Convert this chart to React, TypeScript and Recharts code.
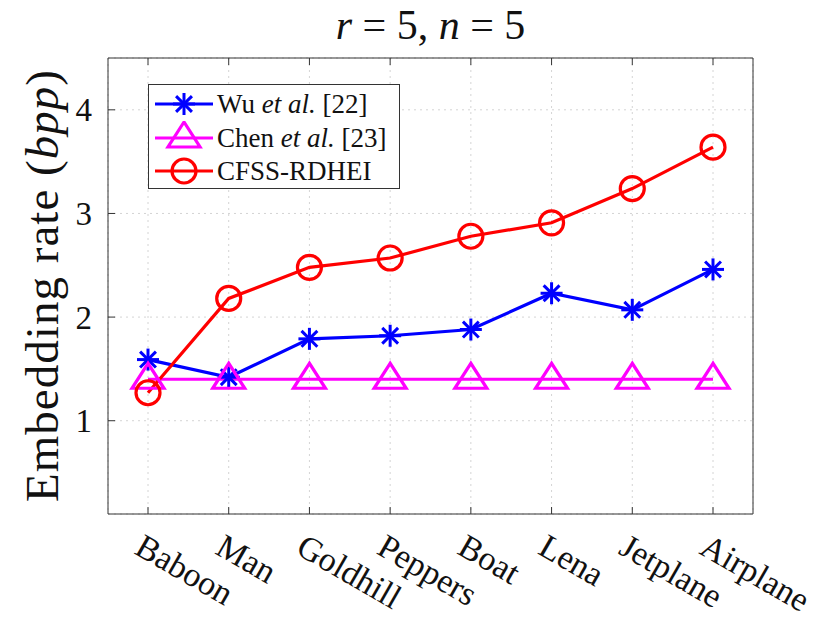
import React from 'react';
import { LineChart, Line, XAxis, YAxis, CartesianGrid, Legend } from 'recharts';

const images = ['Baboon', 'Man', 'Goldhill', 'Peppers', 'Boat', 'Lena', 'Jetplane', 'Airplane'];
const wuRates = [1.59, 1.42, 1.79, 1.82, 1.88, 2.23, 2.07, 2.46];
const chenRates = [1.4, 1.4, 1.4, 1.4, 1.4, 1.4, 1.4, 1.4];
const cfssRates = [1.27, 2.18, 2.48, 2.57, 2.78, 2.91, 3.24, 3.64];
const yTicks = [1, 2, 3, 4];

const data = images.map((name, i) => ({
  name,
  wu: wuRates[i],
  chen: chenRates[i],
  cfss: cfssRates[i],
}));

const FONT = "'Liberation Serif', serif";
const AXIS = '#333333';
const TICK_LEN = 7;
const X_PAD = { left: 40, right: 40 };
const txt = (size: number) => ({ fontFamily: FONT, fontSize: size, fill: '#111' });

function Star({ cx, cy, color, r = 11 }: any) {
  const d = r * 0.72;
  return (
    <g stroke={color} strokeWidth={3} strokeLinecap="butt">
      <line x1={cx} y1={cy - r} x2={cx} y2={cy + r} />
      <line x1={cx - r} y1={cy} x2={cx + r} y2={cy} />
      <line x1={cx - d} y1={cy - d} x2={cx + d} y2={cy + d} />
      <line x1={cx - d} y1={cy + d} x2={cx + d} y2={cy - d} />
    </g>
  );
}

function Tri({ cx, cy, color }: any) {
  const pts = `${cx},${cy - 16} ${cx - 16},${cy + 9} ${cx + 16},${cy + 9}`;
  return <polygon points={pts} fill="none" stroke={color} strokeWidth={3.2} strokeLinejoin="miter" />;
}

function Ring({ cx, cy, color }: any) {
  return <circle cx={cx} cy={cy} r={12} fill="none" stroke={color} strokeWidth={3.2} />;
}

const markers: Record<string, any> = { wu: Star, chen: Tri, cfss: Ring };

const makeDot = (key: string, color: string) => (props: any) => {
  const M = markers[key];
  return (
    <g key={`${key}-${props.index}`}>
      <M cx={props.cx} cy={props.cy} color={color} />
    </g>
  );
};

const BottomTick = ({ x, y, payload }: any) => (
  <g>
    <line x1={x} y1={y} x2={x} y2={y - TICK_LEN} stroke={AXIS} />
    <text
      x={x - 15}
      y={y + 39}
      transform={`rotate(30 ${x - 15} ${y + 39})`}
      textAnchor="start"
      style={txt(34)}
    >
      {payload.value}
    </text>
  </g>
);

const TopTick = ({ x, y }: any) => <line x1={x} y1={y} x2={x} y2={y + TICK_LEN} stroke={AXIS} />;

const LeftTick = ({ x, y, payload }: any) => (
  <g>
    <line x1={x} y1={y} x2={x + TICK_LEN} y2={y} stroke={AXIS} />
    <text x={x - 16} y={y} dy="0.35em" textAnchor="end" style={txt(33)}>
      {payload.value}
    </text>
  </g>
);

const RightTick = ({ x, y }: any) => <line x1={x - TICK_LEN} y1={y} x2={x} y2={y} stroke={AXIS} />;

const yLabel = (props: any) => {
  const vb = props.viewBox;
  const cx = vb.x + vb.width - 66;
  const cy = vb.y + vb.height / 2;
  return (
    <text
      x={cx}
      y={cy}
      transform={`rotate(-90 ${cx} ${cy})`}
      textAnchor="middle"
      dy="0.35em"
      textLength={432}
      lengthAdjust="spacing"
      style={txt(47)}
    >
      Embedding rate (<tspan fontStyle="italic">bpp</tspan>)
    </text>
  );
};

const title = (props: any) => {
  const vb = props.viewBox;
  const cx = vb.x + vb.width / 2;
  return (
    <text x={cx} y={39} textAnchor="middle" style={txt(42)} xmlSpace="preserve">
      <tspan fontStyle="italic">r</tspan>
      {' = 5, '}
      <tspan fontStyle="italic">n</tspan>
      {' = 5'}
    </text>
  );
};

const seriesInfo = [
  { key: 'wu', pre: 'Wu ', italic: 'et al.', post: ' [22]' },
  { key: 'chen', pre: 'Chen ', italic: 'et al.', post: ' [23]' },
  { key: 'cfss', pre: 'CFSS-RDHEI', italic: '', post: '' },
];

const colors: Record<string, string> = { wu: '#0000ff', chen: '#ff00ff', cfss: '#ff0000' };

function LegendBox() {
  return (
    <div
      style={{
        width: 252,
        height: 105,
        boxSizing: 'border-box',
        border: `1px solid ${AXIS}`,
        background: '#fff',
        position: 'relative',
        fontFamily: FONT,
        fontSize: 27,
        color: '#111',
      }}
    >
      {seriesInfo.map((s, i) => {
        const M = markers[s.key];
        const c = colors[s.key];
        return (
          <div key={s.key} style={{ position: 'absolute', left: 0, top: 2 + i * 33.5, height: 34, display: 'flex', alignItems: 'center' }}>
            <svg width={68} height={34} style={{ display: 'block' }}>
              <line x1={6} y1={17} x2={64} y2={17} stroke={c} strokeWidth={3.2} />
              <M cx={35} cy={17} color={c} />
            </svg>
            <span style={{ whiteSpace: 'pre', lineHeight: '34px' }}>
              {s.pre}
              {s.italic ? <i>{s.italic}</i> : null}
              {s.post}
            </span>
          </div>
        );
      })}
    </div>
  );
}

export default function App() {
  return (
    <div style={{ position: 'absolute', left: 0, top: 0, background: '#fff' }}>
      <LineChart width={830} height={623} data={data} margin={{ top: 57, right: 76, bottom: 108, left: 107 }}>
        <CartesianGrid xAxisId="bottom" yAxisId="left" stroke="#d4d4d4" strokeDasharray="2 4" />
        <XAxis
          xAxisId="bottom"
          dataKey="name"
          orientation="bottom"
          height={1}
          padding={X_PAD}
          interval={0}
          tickSize={0}
          tickMargin={0}
          tickLine={false}
          stroke={AXIS}
          tick={<BottomTick />}
        />
        <XAxis
          xAxisId="top"
          dataKey="name"
          orientation="top"
          height={1}
          padding={X_PAD}
          interval={0}
          tickSize={0}
          tickMargin={0}
          tickLine={false}
          stroke={AXIS}
          tick={<TopTick />}
          label={title}
        />
        <YAxis
          yAxisId="left"
          type="number"
          domain={[0.1, 4.5]}
          ticks={yTicks}
          interval={0}
          width={1}
          tickSize={0}
          tickMargin={0}
          tickLine={false}
          stroke={AXIS}
          tick={<LeftTick />}
          label={yLabel}
        />
        <YAxis
          yAxisId="right"
          orientation="right"
          type="number"
          domain={[0.1, 4.5]}
          ticks={yTicks}
          interval={0}
          width={1}
          tickSize={0}
          tickMargin={0}
          tickLine={false}
          stroke={AXIS}
          tick={<RightTick />}
        />
        <Legend
          layout="vertical"
          align="center"
          verticalAlign="middle"
          wrapperStyle={{ left: 148, top: 84, width: 252, height: 105 }}
          content={() => <LegendBox />}
        />
        <Line
          xAxisId="bottom"
          yAxisId="left"
          dataKey="wu"
          name="Wu et al. [22]"
          stroke={colors.wu}
          strokeWidth={3.2}
          dot={makeDot('wu', colors.wu)}
          activeDot={false}
          isAnimationActive={false}
        />
        <Line
          xAxisId="bottom"
          yAxisId="left"
          dataKey="chen"
          name="Chen et al. [23]"
          stroke={colors.chen}
          strokeWidth={3.2}
          dot={makeDot('chen', colors.chen)}
          activeDot={false}
          isAnimationActive={false}
        />
        <Line
          xAxisId="bottom"
          yAxisId="left"
          dataKey="cfss"
          name="CFSS-RDHEI"
          stroke={colors.cfss}
          strokeWidth={3.2}
          dot={makeDot('cfss', colors.cfss)}
          activeDot={false}
          isAnimationActive={false}
        />
      </LineChart>
    </div>
  );
}
